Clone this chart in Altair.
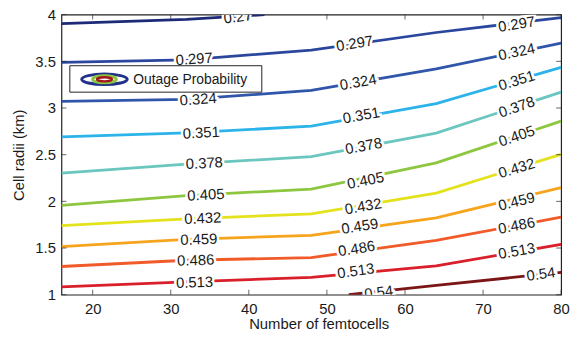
import altair as alt
import pandas as pd

# ---- contour levels and colours ----
levels = ["0.27", "0.297", "0.324", "0.351", "0.378", "0.405",
          "0.432", "0.459", "0.486", "0.513", "0.54"]
colors = ["#1c2a78", "#2a479d", "#2f56aa", "#2bb3ea", "#6ac6bf", "#8dc63f",
          "#e4e21c", "#f7a41d", "#f15a29", "#d81f2a", "#7c1518"]

# ---- contour line vertices (Number of femtocells, Cell radii) ----
grid_x = [16, 32, 48, 64, 80]
x_027 = [16, 32, 42]
y_027 = [3.904, 3.95, 4.0]
y_0297 = [3.49, 3.515, 3.621, 3.809, 3.968]
y_0324 = [3.071, 3.093, 3.188, 3.419, 3.696]
y_0351 = [2.691, 2.734, 2.805, 3.047, 3.436]
y_0378 = [2.302, 2.400, 2.479, 2.731, 3.17]
y_0405 = [1.957, 2.061, 2.132, 2.412, 2.86]
y_0432 = [1.741, 1.813, 1.866, 2.089, 2.504]
y_0459 = [1.515, 1.593, 1.635, 1.823, 2.148]
y_0486 = [1.302, 1.369, 1.398, 1.582, 1.83]
y_0513 = [1.085, 1.138, 1.185, 1.309, 1.539]
x_054 = [52.8, 64, 80]
y_054 = [1.0, 1.1, 1.238]

# ---- inline contour labels ----
label_level = ["0.27", "0.297", "0.324", "0.351", "0.378", "0.405", "0.432", "0.459", "0.486", "0.513",
               "0.297", "0.324", "0.351", "0.378", "0.405", "0.432", "0.459", "0.486", "0.513", "0.54",
               "0.297", "0.324", "0.351", "0.378", "0.405", "0.432", "0.459", "0.486", "0.513", "0.54"]
label_x = [38.6, 33.0, 33.5, 33.9, 34.3, 34.5, 34.1, 33.6, 33.2, 33.05,
           53.55, 54.0, 54.4, 54.7, 54.95, 54.65, 54.2, 53.8, 53.7, 56.65,
           74.3, 74.3, 74.3, 74.3, 74.3, 74.3, 74.3, 74.3, 74.3, 77.4]
label_y = [3.978, 3.526, 3.093, 2.735, 2.409, 2.071, 1.819, 1.593, 1.369, 1.132,
           3.691, 3.277, 2.922, 2.593, 2.223, 1.947, 1.734, 1.494, 1.255, 1.025,
           3.898, 3.603, 3.295, 3.011, 2.699, 2.355, 2.0, 1.741, 1.468, 1.22]
label_angle = [7, 4, 4, 3, 3, 3, 2.5, 2, 2, 2,
               9, 10, 10, 10.5, 11.5, 10, 9, 9, 8, 7,
               9, 12, 17, 19, 19, 17, 14, 11, 10, 8]

x_ticks = [20, 30, 40, 50, 60, 70, 80]
y_ticks = [1, 1.5, 2, 2.5, 3, 3.5, 4]
legend_label = "Outage Probability"

# ---- tables ----
line_sets = [
    ("0.27", x_027, y_027), ("0.297", grid_x, y_0297), ("0.324", grid_x, y_0324),
    ("0.351", grid_x, y_0351), ("0.378", grid_x, y_0378), ("0.405", grid_x, y_0405),
    ("0.432", grid_x, y_0432), ("0.459", grid_x, y_0459), ("0.486", grid_x, y_0486),
    ("0.513", grid_x, y_0513), ("0.54", x_054, y_054),
]
rows = []
for lev, xs, ys in line_sets:
    for i, (xv, yv) in enumerate(zip(xs, ys)):
        rows.append({"level": lev, "x": xv, "y": yv, "o": i})
lines_df = pd.DataFrame(rows)

labels_df = pd.DataFrame({
    "level": label_level, "x": label_x, "y": label_y,
    "rot": [(360 - a) % 360 for a in label_angle],
})
xt_df = pd.DataFrame({"x": x_ticks})
yt_df = pd.DataFrame({"y": y_ticks})
one_df = pd.DataFrame({"a": [0]})

W, H = 505, 283
FONT = "Liberation Sans"
TXT = "#1a1a1a"

xscale = alt.Scale(domain=[16, 80], nice=False, zero=False)
yscale = alt.Scale(domain=[1, 4], nice=False, zero=False)
cscale = alt.Scale(domain=levels, range=colors)

x_axis = alt.Axis(values=x_ticks, title="Number of femtocells", labelExpr="datum.value + ''",
                  labelFlush=False, labelOverlap=False,
                  titleX=260, titleY=34, titleBaseline="alphabetic", titleAlign="center")
y_axis = alt.Axis(values=y_ticks, title="Cell radii (km)", labelExpr="datum.value + ''",
                  labelFlush=False, labelOverlap=False,
                  titleX=-38, titleY=H / 2, titleAngle=270,
                  titleBaseline="alphabetic", titleAlign="center")
X = alt.X("x:Q", scale=xscale, axis=x_axis)
Y = alt.Y("y:Q", scale=yscale, axis=y_axis)

lines = alt.Chart(lines_df).mark_line(strokeWidth=2.8, strokeCap="butt", clip=True).encode(
    x=X, y=Y,
    color=alt.Color("level:N", scale=cscale, legend=None),
    detail="level:N",
    order="o:Q",
)

halo = alt.Chart(labels_df).mark_text(
    font=FONT, fontSize=15, color="white", stroke="white", strokeWidth=5,
    align="center", baseline="middle", clip=True,
).encode(x=X, y=Y, text="level:N", angle=alt.Angle("rot:Q", scale=None))
texts = alt.Chart(labels_df).mark_text(
    font=FONT, fontSize=15, color=TXT,
    align="center", baseline="middle", clip=True,
).encode(x=X, y=Y, text="level:N", angle=alt.Angle("rot:Q", scale=None))

tick_color = "#262626"
xt_bottom = alt.Chart(xt_df).mark_tick(orient="vertical", size=5, thickness=1, color=tick_color).encode(
    x=X, y=alt.value(H - 2.5))
xt_top = alt.Chart(xt_df).mark_tick(orient="vertical", size=5, thickness=1, color=tick_color).encode(
    x=X, y=alt.value(2.5))
yt_left = alt.Chart(yt_df).mark_tick(orient="horizontal", size=5, thickness=1, color=tick_color).encode(
    y=Y, x=alt.value(2.5))
yt_right = alt.Chart(yt_df).mark_tick(orient="horizontal", size=5, thickness=1, color=tick_color).encode(
    y=Y, x=alt.value(W - 2.5))

# ---- legend (drawn by hand, MATLAB-style contour icon) ----
leg_box = alt.Chart(one_df).mark_rect(fill="white", stroke="#222222", strokeWidth=1).encode(
    x=alt.value(8.5), x2=alt.value(202.5), y=alt.value(51.6), y2=alt.value(78.3))

def ellipse(ry):
    return "M-1,0A1,{r},0,1,0,1,0A1,{r},0,1,0,-1,0Z".format(r=ry)

ell_outer = alt.Chart(one_df).mark_point(shape=ellipse(0.23), filled=False, stroke="#22318a",
                                         strokeWidth=3, opacity=1, size=46 * 46).encode(
    x=alt.value(43.5), y=alt.value(65.3))
ell_mid = alt.Chart(one_df).mark_point(shape=ellipse(0.3), filled=False, stroke="#8dc63f",
                                       strokeWidth=3, opacity=1, size=24 * 24).encode(
    x=alt.value(43.5), y=alt.value(65.3))
ell_in = alt.Chart(one_df).mark_point(shape=ellipse(0.28), filled=False, stroke="#a3161c",
                                      strokeWidth=2.5, opacity=1, size=15 * 15).encode(
    x=alt.value(43.5), y=alt.value(65.3))
leg_text = alt.Chart(one_df).mark_text(text=legend_label, font=FONT, fontSize=14, color=TXT,
                                       align="left", baseline="middle").encode(
    x=alt.value(72.5), y=alt.value(65.6))

chart = alt.layer(
    lines, halo, texts, xt_bottom, xt_top, yt_left, yt_right,
    leg_box, ell_outer, ell_mid, ell_in, leg_text,
).properties(
    width=W, height=H,
    autosize=alt.AutoSizeParams(type="none"),
    padding={"left": 54, "top": 5, "right": 12, "bottom": 40},
).configure_view(
    stroke="#222222", strokeWidth=1.2,
).configure_axis(
    grid=False, ticks=False, domain=False,
    labelFont=FONT, labelFontSize=15, labelColor=TXT,
    titleFont=FONT, titleFontSize=15, titleFontWeight="normal", titleColor=TXT,
).configure_axisX(labelPadding=7).configure_axisY(labelPadding=6)

chart.save("out.html", embed_options={"renderer": "svg", "actions": False})
